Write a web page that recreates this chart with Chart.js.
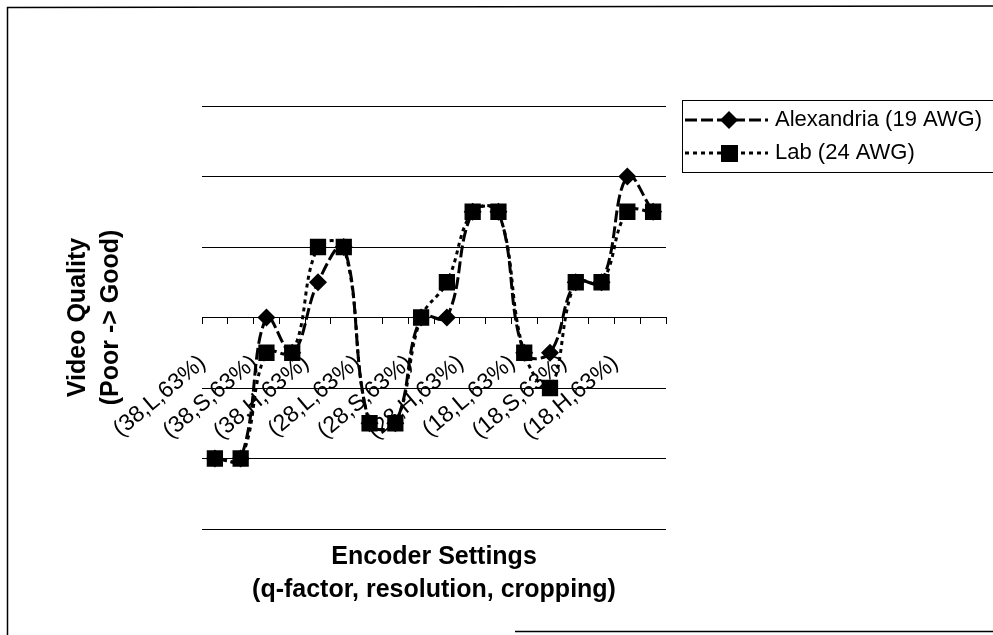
<!DOCTYPE html>
<html>
<head>
<meta charset="utf-8">
<script src="https://cdn.jsdelivr.net/npm/chart.js@4.4.0/dist/chart.umd.min.js"></script>
<style>
  html, body { margin: 0; padding: 0; background: #fff; }
  canvas { display: block; }
</style>
</head>
<body>
<canvas id="chartArea" width="993" height="635"></canvas>
<script>
// categories: every second one carries no label in the picture
const categories = ["(38,L,63%)", "", "(38,S,63%)", "", "(38,H,63%)", "",
                    "(28,L,63%)", "", "(28,S,63%)", "", "(28,H,63%)", "",
                    "(18,L,63%)", "", "(18,S,63%)", "", "(18,H,63%)", ""];
const alexandria = [-2, -2, 0, -0.5, 0.5, 1, -1.5, -1.5, 0, 0, 1.5, 1.5, -0.5, -0.5, 0.5, 0.5, 2, 1.5];
const lab        = [-2, -2, -0.5, -0.5, 1, 1, -1.5, -1.5, 0, 0.5, 1.5, 1.5, -0.5, -1, 0.5, 0.5, 1.5, 1.5];
const seriesNames = ["Alexandria (19 AWG)", "Lab (24 AWG)"];
const yTitle = ["Video Quality", "(Poor -> Good)"];
const xTitle = ["Encoder Settings", "(q-factor, resolution, cropping)"];

const FONT = '"Liberation Sans", Arial, sans-serif';

// scanned frame + legend box drawn by hand
const framePlugin = {
  id: "frame",
  afterDraw(chart) {
    const ctx = chart.ctx;
    ctx.save();
    ctx.strokeStyle = "#000";
    ctx.lineWidth = 1.5;
    ctx.beginPath();
    ctx.moveTo(7.5, 635); ctx.lineTo(7.5, 7.5); ctx.lineTo(993, 6);
    ctx.moveTo(515, 631.5); ctx.lineTo(993, 631.5);
    ctx.stroke();

    ctx.lineWidth = 1;
    ctx.strokeRect(682.5, 100.5, 330, 72);

    chart.data.datasets.forEach((ds, i) => {
      const y = 120 + i * 33;
      ctx.setLineDash(ds.borderDash);
      ctx.lineWidth = ds.borderWidth;
      ctx.beginPath();
      ctx.moveTo(685, y); ctx.lineTo(768, y);
      ctx.stroke();
      ctx.setLineDash([]);
      ctx.fillStyle = "#000";
      ctx.beginPath();
      if (ds.pointStyle === "rectRot") {
        ctx.moveTo(729, y - 9); ctx.lineTo(738, y); ctx.lineTo(729, y + 9); ctx.lineTo(720, y);
        ctx.closePath();
      } else {
        ctx.rect(721, y - 8, 17, 17);
      }
      ctx.fill();
      ctx.font = "22px " + FONT;
      ctx.textBaseline = "middle";
      ctx.fillText(ds.label, 775, y);
    });
    ctx.restore();
  }
};

const chart = new Chart(document.getElementById("chartArea"), {
  type: "line",
  data: {
    labels: categories,
    datasets: [{
      label: seriesNames[0],
      data: alexandria,
      xAxisID: "x",
      order: 1,
      borderColor: "#000",
      borderWidth: 3,
      borderDash: [12, 4],
      pointStyle: "rectRot",
      pointRadius: 9,
      pointBackgroundColor: "#000",
      pointBorderColor: "#000",
      pointBorderWidth: 0,
      tension: 0.4,
      fill: false
    }, {
      label: seriesNames[1],
      data: lab,
      xAxisID: "x",
      order: 0,
      borderColor: "#000",
      borderWidth: 3,
      borderDash: [4, 4],
      pointStyle: "rect",
      pointRadius: 11.5,
      pointBackgroundColor: "#000",
      pointBorderColor: "#000",
      pointBorderWidth: 0,
      tension: 0.4,
      fill: false
    }]
  },
  options: {
    responsive: false,
    animation: false,
    layout: { padding: { left: 62, top: 106, right: 327, bottom: 29 } },
    plugins: {
      legend: { display: false },
      tooltip: { enabled: false }
    },
    scales: {
      x: {
        type: "category",
        position: { y: 0 },
        offset: true,
        grid: { display: true, offset: true, drawOnChartArea: false, drawTicks: true, tickLength: 6, color: "#000" },
        border: { display: true, color: "#000", width: 1 },
        ticks: {
          autoSkip: false,
          minRotation: 40,
          maxRotation: 40,
          padding: 26,
          labelOffset: -12,
          color: "#000",
          font: { family: FONT, size: 23 }
        }
      },
      x2: {
        type: "category",
        position: "bottom",
        grid: { display: false, drawTicks: false },
        border: { display: false },
        ticks: { display: false },
        title: {
          display: true,
          text: xTitle,
          color: "#000",
          font: { family: FONT, size: 25, weight: "bold", lineHeight: 1.3 },
          padding: { top: 12, bottom: 0 }
        }
      },
      y: {
        min: -3,
        max: 3,
        grid: { color: "#000", lineWidth: 1, drawTicks: false },
        border: { display: false },
        ticks: { display: false, stepSize: 1 },
        title: {
          display: true,
          text: yTitle,
          color: "#000",
          font: { family: FONT, size: 25, weight: "bold", lineHeight: 1.3 },
          padding: { top: 0, bottom: 75 }
        }
      }
    }
  },
  plugins: [framePlugin]
});
</script>
</body>
</html>
